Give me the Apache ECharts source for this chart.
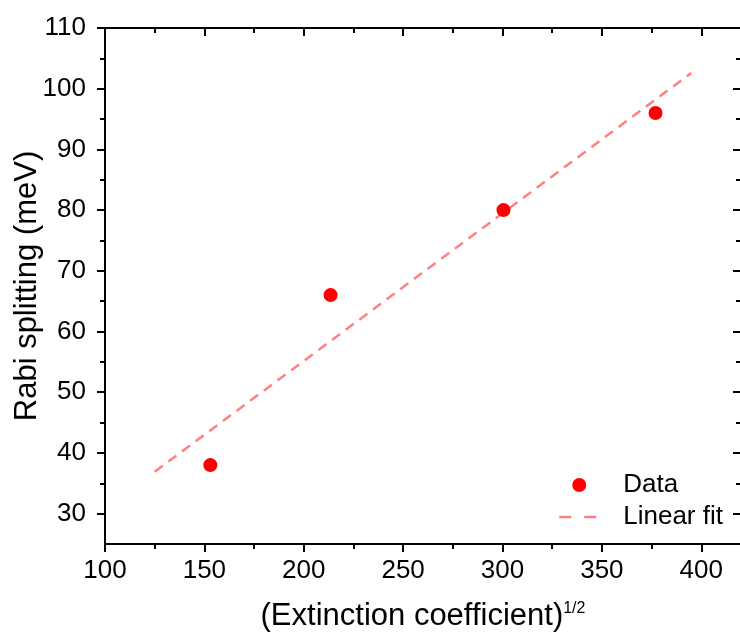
<!DOCTYPE html>
<html>
<head>
<meta charset="utf-8">
<script src="https://cdn.jsdelivr.net/npm/echarts@6/dist/echarts.min.js"></script>
<style>
html,body{margin:0;padding:0;background:#fff;}
#c{width:740px;height:637px;}
</style>
</head>
<body>
<div id="c"></div>
<script>
// ---- data ----
const dataX = [153, 213.5, 300.5, 377];
const dataY = [38, 66, 80, 96];
const fitX = [125, 395];
const fitY = [36.9, 102.6];
const xTicks = [100, 150, 200, 250, 300, 350, 400];
const xMinor = [125, 175, 225, 275, 325, 375];
const yTicks = [30, 40, 50, 60, 70, 80, 90, 100, 110];
const yMinor = [35, 45, 55, 65, 75, 85, 95, 105];
const xRange = [100, 420];
const yRange = [25, 110];
const seriesNames = ['Data', 'Linear fit'];

const FONT = '"Liberation Sans", Arial, sans-serif';
const AX = '#000';

function xAxisDef(pos, ticks, len, showLabel, inside, showLine) {
  return {
    type: 'value', position: pos, min: xRange[0], max: xRange[1],
    axisLine: {show: showLine, onZero: false, lineStyle: {color: AX, width: 2}},
    axisTick: {show: true, inside: inside, length: len, customValues: ticks, lineStyle: {color: AX, width: 2}},
    axisLabel: {show: showLabel, customValues: ticks, color: '#000', fontFamily: FONT, fontSize: 26, margin: 14},
    splitLine: {show: false}
  };
}
function yAxisDef(pos, ticks, len, showLabel, inside, showLine) {
  return {
    type: 'value', position: pos, min: yRange[0], max: yRange[1],
    axisLine: {show: showLine, onZero: false, lineStyle: {color: AX, width: 2}},
    axisTick: {show: true, inside: inside, length: len, customValues: ticks, lineStyle: {color: AX, width: 2}},
    axisLabel: {show: showLabel, customValues: ticks, color: '#000', fontFamily: FONT, fontSize: 26, margin: 19},
    splitLine: {show: false}
  };
}

const xMain = xAxisDef('bottom', xTicks, 8, true, false, true);
xMain.name = '{a|(Extinction coefficient)}{s|1/2}';
xMain.nameLocation = 'middle';
xMain.nameGap = 57;
xMain.nameMoveOverlap = false;
xMain.nameTextStyle = {
  rich: {
    a: {fontFamily: FONT, fontSize: 31, color: '#000'},
    s: {fontFamily: FONT, fontSize: 16, color: '#000', verticalAlign: 'top'}
  }
};

const yMain = yAxisDef('left', yTicks, 8, true, false, true);
yMain.name = 'Rabi splitting (meV)';
yMain.nameLocation = 'middle';
yMain.nameGap = 62;
yMain.nameMoveOverlap = false;
yMain.nameTextStyle = {fontFamily: FONT, fontSize: 31, color: '#000'};

const option = {
  animation: false,
  backgroundColor: '#fff',
  grid: {left: 105, right: -1, top: 28, bottom: 93, containLabel: false, outerBoundsMode: 'none'},
  xAxis: [
    xMain,
    xAxisDef('bottom', xMinor, 5, false, false, false),
    xAxisDef('top', xTicks, 8, false, true, true),
    xAxisDef('top', xMinor, 5, false, true, false)
  ],
  yAxis: [
    yMain,
    yAxisDef('left', yMinor, 5, false, false, false),
    yAxisDef('right', yTicks, 8, false, true, true),
    yAxisDef('right', yMinor, 5, false, true, false)
  ],
  legend: {
    orient: 'vertical',
    left: 553, top: 467,
    itemWidth: 40, itemHeight: 14, itemGap: 6,
    textStyle: {fontFamily: FONT, fontSize: 26, color: '#000', padding: [0, 0, 0, 19]},
    data: [
      seriesNames[0],
      {name: seriesNames[1], itemStyle: {opacity: 0}, lineStyle: {type: [12, 13], width: 2.5, color: '#FF8080'}}
    ]
  },
  series: [
    {
      name: seriesNames[1], type: 'line', xAxisIndex: 0, yAxisIndex: 0,
      data: fitX.map((x, i) => [x, fitY[i]]),
      symbol: 'none',
      lineStyle: {color: '#FF8080', width: 2.5, type: [10, 7]},
      itemStyle: {color: '#FF8080'},
      z: 1
    },
    {
      name: seriesNames[0], type: 'scatter', xAxisIndex: 0, yAxisIndex: 0,
      data: dataX.map((x, i) => [x, dataY[i]]),
      symbol: 'circle', symbolSize: 14,
      itemStyle: {color: '#FF0000', opacity: 1},
      z: 2
    }
  ]
};
const chart = echarts.init(document.getElementById('c'), null, {renderer: 'canvas'});
chart.setOption(option);
</script>
</body>
</html>
